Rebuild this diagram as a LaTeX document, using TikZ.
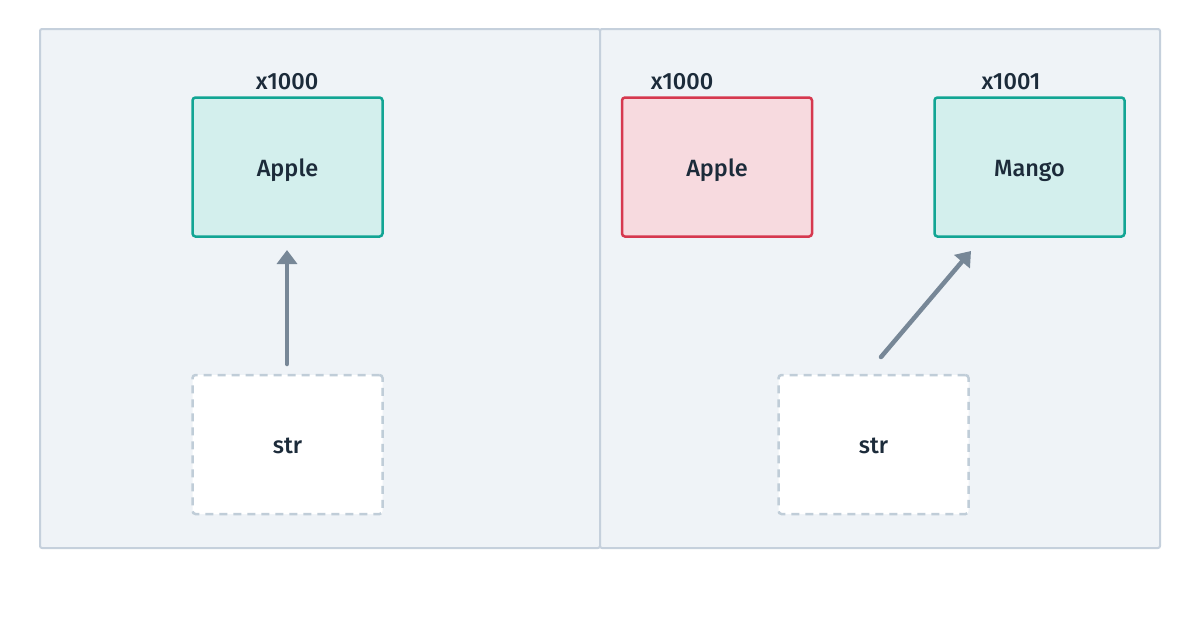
\documentclass[tikz,border=0pt]{standalone}
\usepackage{fontspec}
\setmainfont{Fira Sans}[UprightFont=* Medium]
\usetikzlibrary{arrows.meta}
\definecolor{panelfill}{HTML}{EFF3F7}
\definecolor{panelline}{HTML}{C5D0DC}
\definecolor{tealline}{HTML}{12A594}
\definecolor{tealfill}{HTML}{D3EFED}
\definecolor{redline}{HTML}{D6384F}
\definecolor{redfill}{HTML}{F7DADF}
\definecolor{dashline}{HTML}{C0CDD8}
\definecolor{arrowcol}{HTML}{778797}
\definecolor{txt}{HTML}{1C2B3A}
\tikzset{
  panel/.style={draw=panelline, fill=panelfill, line width=2pt, rounded corners=2pt},
  objbox/.style={line width=2.5pt, rounded corners=3pt, minimum width=190pt, minimum height=139pt, inner sep=0pt, text height=18pt, text depth=0pt, font=\fontsize{23.5}{27}\selectfont, text=txt},
  live/.style={objbox, draw=tealline, fill=tealfill},
  dead/.style={objbox, draw=redline, fill=redfill},
  refbox/.style={objbox, draw=dashline, fill=white, dash pattern=on 8pt off 6pt},
  addr/.style={font=\fontsize{23.5}{27}\selectfont, text=txt, inner sep=0pt},
  refarrow/.style={draw=arrowcol, line width=4.5pt, line cap=round, -{Triangle[length=14pt,width=20pt]}}
}
\begin{document}
\begin{tikzpicture}[x=1pt,y=-1pt]
\useasboundingbox (0,0) rectangle (1200,619);
\fill[white] (0,0) rectangle (1200,619);
\path[panel] (40,29) rectangle (600,548);
\path[panel] (600,29) rectangle (1160,548);
% left
\node[live] (a1) at (287.5,167) {Apple};
\node[addr] (l1) at (287,82) {x1000};
\node[refbox] (s1) at (287.5,444.5) {str};
\coordinate (s1top) at (287,364);
\coordinate (a1bot) at (287,250);
\draw[refarrow] (s1top) -- (a1bot);
% right
\node[dead] (a2) at (717,167) {Apple};
\node[addr] (l2) at (682,82) {x1000};
\node[live] (m2) at (1029.5,167) {Mango};
\node[addr] (l3) at (1011,82) {x1001};
\node[refbox] (s2) at (873.5,444.5) {str};
\coordinate (s2top) at (881,357);
\coordinate (m2bot) at (971,251);
\draw[refarrow] (s2top) -- (m2bot);
\end{tikzpicture}
\end{document}
